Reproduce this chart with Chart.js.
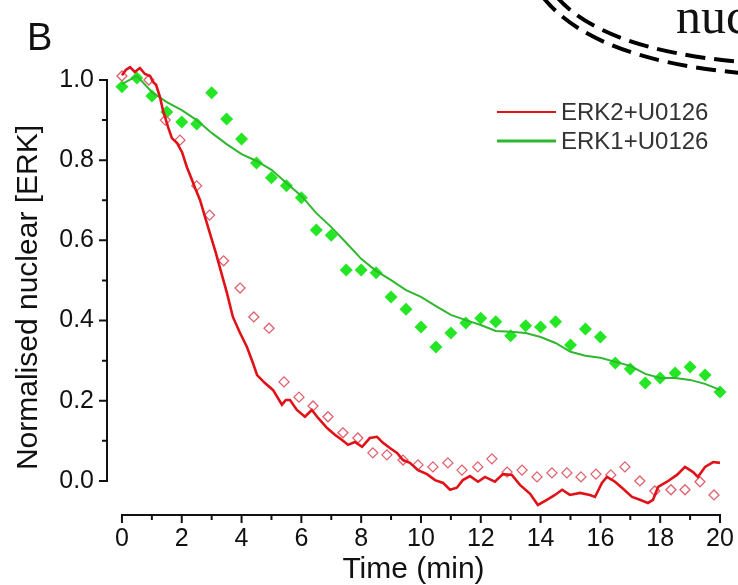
<!DOCTYPE html>
<html>
<head>
<meta charset="utf-8">
<script src="https://cdn.jsdelivr.net/npm/chart.js@4.4.1/dist/chart.umd.min.js"></script>
<style>
  html, body { margin: 0; padding: 0; background: #fff; }
  #chart { display: block; }
</style>
</head>
<body>
<canvas id="chart" width="738" height="585"></canvas>
<script>
// ERK2+U0126 live trace (red line)
const redLineT = [0.00, 0.13, 0.27, 0.43, 0.60, 0.77, 0.94, 1.04, 1.14, 1.27, 1.37, 1.54, 1.67, 1.84, 2.01,
  2.17, 2.34, 2.47, 2.61, 2.78, 2.94, 3.14, 3.28, 3.51, 3.71, 3.95, 4.18, 4.38, 4.52, 4.78, 5.05, 5.35,
  5.48, 5.62, 5.85, 6.12, 6.35, 6.56, 6.86, 7.12, 7.36, 7.56, 7.79, 8.03, 8.29, 8.53, 8.73, 8.96, 9.20,
  9.40, 9.63, 9.90, 10.20, 10.47, 10.74, 10.97, 11.20, 11.40, 11.64, 11.91, 12.14, 12.47, 12.74, 13.04,
  13.31, 13.65, 13.91, 14.21, 14.48, 14.72, 14.98, 15.32, 15.65, 15.82, 16.05, 16.22, 16.49, 16.72,
  17.06, 17.32, 17.59, 17.76, 17.93, 18.23, 18.56, 18.83, 19.10, 19.26, 19.50, 19.77, 20.00];
const redLineV = [1.012, 1.025, 1.032, 1.020, 1.030, 1.015, 1.010, 0.995, 0.988, 0.958, 0.925, 0.883, 0.855,
  0.843, 0.820, 0.783, 0.751, 0.726, 0.701, 0.658, 0.618, 0.569, 0.531, 0.469, 0.409, 0.369, 0.334, 0.294,
  0.264, 0.244, 0.227, 0.190, 0.202, 0.202, 0.177, 0.160, 0.177, 0.157, 0.132, 0.115, 0.102, 0.090, 0.097,
  0.085, 0.107, 0.110, 0.095, 0.082, 0.070, 0.052, 0.045, 0.027, 0.017, 0.002, -0.005, -0.022, -0.017,
  0.002, 0.012, -0.002, 0.010, -0.002, 0.017, 0.015, -0.010, -0.032, -0.060, -0.047, -0.035, -0.022,
  -0.035, -0.030, -0.035, -0.040, -0.005, 0.010, -0.002, -0.017, -0.040, -0.047, -0.055, -0.047, -0.015,
  -0.002, 0.015, 0.035, 0.022, 0.010, 0.035, 0.047, 0.045];

// ERK1+U0126 trace (green line)
const greenLineT = [0, 0.5, 1.0, 1.5, 2.0, 2.5, 3.0, 3.5, 4.0, 4.5, 5.0, 5.5, 6.0, 6.5, 7.0, 7.5, 8.0, 8.5,
  9.0, 9.5, 10.0, 10.5, 11.0, 11.5, 12.0, 12.5, 13.0, 13.5, 14.0, 14.5, 15.0, 15.5, 16.0, 16.5, 17.0,
  17.5, 18.0, 18.5, 19.0, 19.5, 20.0];
const greenLineV = [0.99, 1.01, 0.97, 0.945, 0.925, 0.90, 0.868, 0.840, 0.815, 0.798, 0.776, 0.743, 0.711,
  0.668, 0.633, 0.594, 0.554, 0.524, 0.501, 0.476, 0.459, 0.436, 0.414, 0.401, 0.389, 0.374, 0.372, 0.369,
  0.359, 0.344, 0.322, 0.312, 0.307, 0.297, 0.287, 0.267, 0.257, 0.257, 0.252, 0.242, 0.227];

// ERK2 open diamonds
const redDotT = [0.0, 0.45, 0.9, 1.45, 1.94, 2.5, 2.93, 3.4, 3.95, 4.41, 4.92, 5.42, 5.92, 6.39, 6.89, 7.39,
  7.89, 8.39, 8.86, 9.4, 9.9, 10.4, 10.9, 11.37, 11.9, 12.37, 12.88, 13.38, 13.88, 14.38, 14.88, 15.35,
  15.85, 16.35, 16.82, 17.32, 17.82, 18.36, 18.83, 19.33, 19.80];
const redDotV = [1.01, 1.02, 1.00, 0.90, 0.850, 0.736, 0.663, 0.549, 0.481, 0.409, 0.381, 0.247, 0.209,
  0.187, 0.160, 0.120, 0.107, 0.070, 0.065, 0.052, 0.040, 0.035, 0.045, 0.027, 0.035, 0.055, 0.022, 0.027,
  0.010, 0.020, 0.020, 0.010, 0.017, 0.015, 0.035, 0.000, -0.025, -0.022, -0.022, -0.002, -0.035];

// ERK1 filled diamonds
const greenDotT = [0, 0.5, 1.0, 1.5, 2.0, 2.5, 3.0, 3.5, 4.0, 4.5, 5.0, 5.5, 6.0, 6.5, 7.0, 7.5, 8.0, 8.5,
  9.0, 9.5, 10.0, 10.5, 11.0, 11.5, 12.0, 12.5, 13.0, 13.5, 14.0, 14.5, 15.0, 15.5, 16.0, 16.5, 17.0,
  17.5, 18.0, 18.5, 19.0, 19.5, 20.0];
const greenDotV = [0.983, 1.005, 0.960, 0.920, 0.895, 0.890, 0.968, 0.903, 0.853, 0.793, 0.756, 0.736,
  0.706, 0.626, 0.613, 0.526, 0.526, 0.519, 0.459, 0.428, 0.384, 0.334, 0.369, 0.394, 0.406, 0.397, 0.362,
  0.387, 0.384, 0.397, 0.339, 0.379, 0.359, 0.294, 0.279, 0.244, 0.257, 0.269, 0.284, 0.264, 0.222];

// axis ticks
const xTicks = [0, 2, 4, 6, 8, 10, 12, 14, 16, 18, 20];
const xMinorTicks = [1, 3, 5, 7, 9, 11, 13, 15, 17, 19];
const yTicks = [0, 0.2, 0.4, 0.6, 0.8, 1.0];
const yMinorTicks = [0.1, 0.3, 0.5, 0.7, 0.9];

const legendLabels = ['ERK2+U0126', 'ERK1+U0126'];

const RED = '#e01218';
const GREEN_LINE = '#2fb82f';
const GREEN_DOT = '#25e625';
const RED_DOT = '#e0606e';

function toPoints(ts, vs) {
  return ts.map((t, i) => ({ x: t, y: vs[i] }));
}

// Origin style axes, offset from the data
const originAxes = {
  id: 'originAxes',
  afterDraw(chart) {
    const { ctx, chartArea, scales: { x, y } } = chart;
    const ax = chartArea.left;
    const ay = chartArea.bottom;
    ctx.save();
    ctx.strokeStyle = '#111';
    ctx.lineWidth = 2;
    ctx.lineCap = 'butt';
    ctx.beginPath();
    // y axis
    ctx.moveTo(ax, y.getPixelForValue(yTicks[0]) + 1);
    ctx.lineTo(ax, y.getPixelForValue(yTicks[yTicks.length - 1]) - 1);
    yTicks.forEach(v => {
      const py = y.getPixelForValue(v);
      ctx.moveTo(ax, py); ctx.lineTo(ax - 8, py);
    });
    yMinorTicks.forEach(v => {
      const py = y.getPixelForValue(v);
      ctx.moveTo(ax, py); ctx.lineTo(ax - 5, py);
    });
    // x axis
    ctx.moveTo(x.getPixelForValue(xTicks[0]) - 1, ay);
    ctx.lineTo(x.getPixelForValue(xTicks[xTicks.length - 1]) + 1, ay);
    xTicks.forEach(v => {
      const px = x.getPixelForValue(v);
      ctx.moveTo(px, ay); ctx.lineTo(px, ay + 8);
    });
    xMinorTicks.forEach(v => {
      const px = x.getPixelForValue(v);
      ctx.moveTo(px, ay); ctx.lineTo(px, ay + 5);
    });
    ctx.stroke();
    ctx.restore();
  }
};

// panel letter, legend and the bits of the neighbouring figure
const decorations = {
  id: 'decorations',
  afterDraw(chart) {
    const { ctx } = chart;
    ctx.save();

    ctx.fillStyle = '#111';
    ctx.font = '38px "Liberation Sans", Arial, sans-serif';
    ctx.textBaseline = 'alphabetic';
    ctx.fillText('B', 27, 50);

    ctx.font = '50px "Liberation Serif", "Times New Roman", serif';
    ctx.fillText('nuc', 676, 33);

    ctx.strokeStyle = '#000';
    ctx.lineWidth = 4;
    ctx.setLineDash([20, 9]);
    ctx.beginPath();
    ctx.moveTo(542, -4);
    ctx.quadraticCurveTo(592, 60, 742, 73);
    ctx.stroke();
    ctx.beginPath();
    ctx.moveTo(556, -4);
    ctx.quadraticCurveTo(602, 50, 742, 62);
    ctx.stroke();
    ctx.setLineDash([]);

    // legend
    const rows = [
      { label: legendLabels[0], color: RED, width: 2, y: 112 },
      { label: legendLabels[1], color: GREEN_LINE, width: 3, y: 141 }
    ];
    ctx.font = '24px "Liberation Sans", Arial, sans-serif';
    ctx.textBaseline = 'middle';
    rows.forEach(r => {
      ctx.strokeStyle = r.color;
      ctx.lineWidth = r.width;
      ctx.beginPath();
      ctx.moveTo(497, r.y);
      ctx.lineTo(556, r.y);
      ctx.stroke();
      ctx.fillStyle = '#333';
      ctx.fillText(r.label, 561, r.y + 1);
    });
    ctx.restore();
  }
};

const ctx = document.getElementById('chart').getContext('2d');

new Chart(ctx, {
  type: 'scatter',
  data: {
    datasets: [
      {
        label: legendLabels[0],
        data: toPoints(redLineT, redLineV),
        showLine: true,
        borderColor: RED,
        borderWidth: 2.6,
        pointRadius: 0,
        tension: 0,
        order: 1
      },
      {
        label: legendLabels[1],
        data: toPoints(greenLineT, greenLineV),
        showLine: true,
        borderColor: GREEN_LINE,
        borderWidth: 2,
        pointRadius: 0,
        tension: 0,
        order: 2
      },
      {
        label: 'ERK2 data',
        data: toPoints(redDotT, redDotV),
        pointStyle: 'rectRot',
        pointRadius: 5,
        backgroundColor: 'rgba(255,255,255,0)',
        borderColor: RED_DOT,
        borderWidth: 1.3,
        order: 3
      },
      {
        label: 'ERK1 data',
        data: toPoints(greenDotT, greenDotV),
        pointStyle: 'rectRot',
        pointRadius: 6.5,
        backgroundColor: GREEN_DOT,
        borderColor: GREEN_DOT,
        borderWidth: 0,
        order: 4
      }
    ]
  },
  options: {
    responsive: false,
    animation: false,
    devicePixelRatio: 1,
    clip: false,
    layout: { padding: { top: 80, right: 18, left: 0, bottom: 0 } },
    plugins: {
      legend: { display: false },
      tooltip: { enabled: false }
    },
    scales: {
      x: {
        type: 'linear',
        min: -0.5,
        max: 20,
        grid: { display: false },
        border: { display: false },
        afterBuildTicks: scale => { scale.ticks = xTicks.map(v => ({ value: v })); },
        afterFit: scale => { scale.height = 70; },
        ticks: {
          padding: 1,
          color: '#111',
          font: { family: '"Liberation Sans", Arial, sans-serif', size: 25 },
          callback: v => String(v)
        },
        title: {
          display: true,
          text: 'Time (min)',
          color: '#111',
          padding: { top: 0, bottom: -3 },
          font: { family: '"Liberation Sans", Arial, sans-serif', size: 30 }
        }
      },
      y: {
        type: 'linear',
        min: -0.085,
        max: 1.0,
        grid: { display: false },
        border: { display: false },
        afterBuildTicks: scale => { scale.ticks = yTicks.map(v => ({ value: v })); },
        afterFit: scale => { scale.width = 107; },
        ticks: {
          padding: 5,
          color: '#111',
          font: { family: '"Liberation Sans", Arial, sans-serif', size: 25 },
          callback: v => Number(v).toFixed(1)
        },
        title: {
          display: true,
          text: 'Normalised nuclear [ERK]',
          color: '#111',
          padding: { top: 11, bottom: 0 },
          font: { family: '"Liberation Sans", Arial, sans-serif', size: 30 }
        }
      }
    }
  },
  plugins: [originAxes, decorations]
});
</script>
</body>
</html>
